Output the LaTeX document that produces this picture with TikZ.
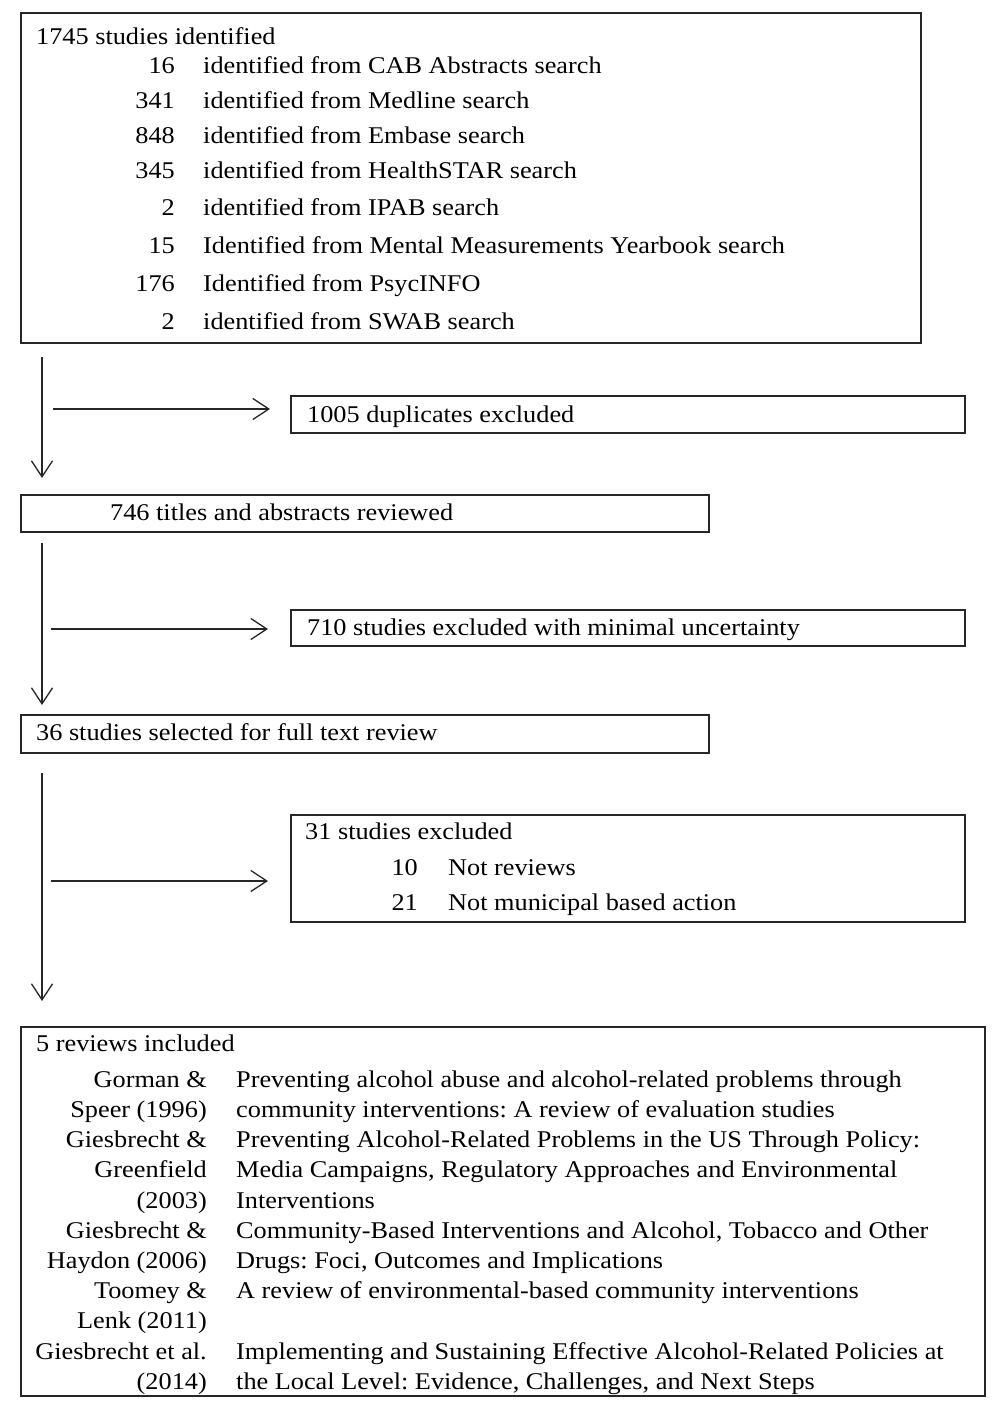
\documentclass[tikz,border=0pt]{standalone}
\usepackage{fontspec}
\setmainfont{Liberation Serif}[FakeStretch=1.095]
\usetikzlibrary{arrows.meta}
\frenchspacing
\begin{document}
\begin{tikzpicture}[x=1pt,y=-1pt,
  box/.style={draw=black!85,line width=1.3pt,inner sep=0pt,outer sep=0pt,anchor=north west},
  txt/.style={inner sep=0pt,anchor=base west,font=\fontsize{24}{28}\selectfont\frenchspacing},
  num/.style={inner sep=0pt,anchor=base east,font=\fontsize{24}{28}\selectfont\frenchspacing},
  arr/.style={draw=black!85,line width=1.3pt,-{Straight Barb[length=16pt,width=21pt,line width=1.3pt]}}]
\useasboundingbox (0,0) rectangle (1000,1408);
% boxes
\node[box,minimum width=900pt,minimum height=330pt] (b1) at (21,13) {};
\node[box,minimum width=674pt,minimum height=37pt] (b2) at (291,396) {};
\node[box,minimum width=688pt,minimum height=37pt] (b3) at (21,495) {};
\node[box,minimum width=674pt,minimum height=36pt] (b4) at (291,610) {};
\node[box,minimum width=688pt,minimum height=38pt] (b5) at (21,715) {};
\node[box,minimum width=674pt,minimum height=107pt] (b6) at (291,815) {};
\node[box,minimum width=964pt,minimum height=369pt] (b7) at (21,1027) {};
% box 1 text
\node[txt] (t1) at (36,44) {1745 studies identified};
\node[num] (n11) at (175,73) {16};
\node[txt] (l11) at (203,73) {identified from CAB Abstracts search};
\node[num] (n12) at (175,108) {341};
\node[txt] (l12) at (203,108) {identified from Medline search};
\node[num] (n13) at (175,143) {848};
\node[txt] (l13) at (203,143) {identified from Embase search};
\node[num] (n14) at (175,178) {345};
\node[txt] (l14) at (203,178) {identified from HealthSTAR search};
\node[num] (n15) at (175,215) {2};
\node[txt] (l15) at (203,215) {identified from IPAB search};
\node[num] (n16) at (175,253) {15};
\node[txt] (l16) at (203,253) {Identified from Mental Measurements Yearbook search};
\node[num] (n17) at (175,291) {176};
\node[txt] (l17) at (203,291) {Identified from PsycINFO};
\node[num] (n18) at (175,329) {2};
\node[txt] (l18) at (203,329) {identified from SWAB search};
% other boxes text
\node[txt] (t2) at (307,422) {1005 duplicates excluded};
\node[txt] (t3) at (110,520) {746 titles and abstracts reviewed};
\node[txt] (t4) at (307,635) {710 studies excluded with minimal uncertainty};
\node[txt] (t5) at (36,740) {36 studies selected for full text review};
\node[txt] (t6) at (305,839) {31 studies excluded};
\node[num] (n61) at (418,875) {10};
\node[txt] (l61) at (448,875) {Not reviews};
\node[num] (n62) at (418,910) {21};
\node[txt] (l62) at (448,910) {Not municipal based action};
% bottom box
\node[txt] (t7) at (36,1051) {5 reviews included};
\node[num] (a1) at (207,1087) {Gorman \&};
\node[txt] (r1) at (236,1087) {Preventing alcohol abuse and alcohol-related problems through};
\node[num] (a2) at (207,1117) {Speer (1996)};
\node[txt] (r2) at (236,1117) {community interventions: A review of evaluation studies};
\node[num] (a3) at (207,1147) {Giesbrecht \&};
\node[txt] (r3) at (236,1147) {Preventing Alcohol-Related Problems in the US Through Policy:};
\node[num] (a4) at (207,1177) {Greenfield};
\node[txt] (r4) at (236,1177) {Media Campaigns, Regulatory Approaches and Environmental};
\node[num] (a5) at (207,1208) {(2003)};
\node[txt] (r5) at (236,1208) {Interventions};
\node[num] (a6) at (207,1238) {Giesbrecht \&};
\node[txt] (r6) at (236,1238) {Community-Based Interventions and Alcohol, Tobacco and Other};
\node[num] (a7) at (207,1268) {Haydon (2006)};
\node[txt] (r7) at (236,1268) {Drugs: Foci, Outcomes and Implications};
\node[num] (a8) at (207,1298) {Toomey \&};
\node[txt] (r8) at (236,1298) {A review of environmental-based community interventions};
\node[num] (a9) at (207,1328) {Lenk (2011)};
\node[num] (a10) at (207,1359) {Giesbrecht et al.};
\node[txt] (r10) at (236,1359) {Implementing and Sustaining Effective Alcohol-Related Policies at};
\node[num] (a11) at (207,1389) {(2014)};
\node[txt] (r11) at (236,1389) {the Local Level: Evidence, Challenges, and Next Steps};
% arrow coordinates
\coordinate (v1s) at (42,357);
\coordinate (v1e) at (42,478);
\coordinate (h1s) at (53,409);
\coordinate (h1e) at (270,409);
\coordinate (v2s) at (42,543);
\coordinate (v2e) at (42,705);
\coordinate (h2s) at (51,629);
\coordinate (h2e) at (268,629);
\coordinate (v3s) at (42,773);
\coordinate (v3e) at (42,1001);
\coordinate (h3s) at (51,881);
\coordinate (h3e) at (268,881);
\draw[arr] (v1s) -- (v1e);
\draw[arr] (h1s) -- (h1e);
\draw[arr] (v2s) -- (v2e);
\draw[arr] (h2s) -- (h2e);
\draw[arr] (v3s) -- (v3e);
\draw[arr] (h3s) -- (h3e);
\end{tikzpicture}
\end{document}
